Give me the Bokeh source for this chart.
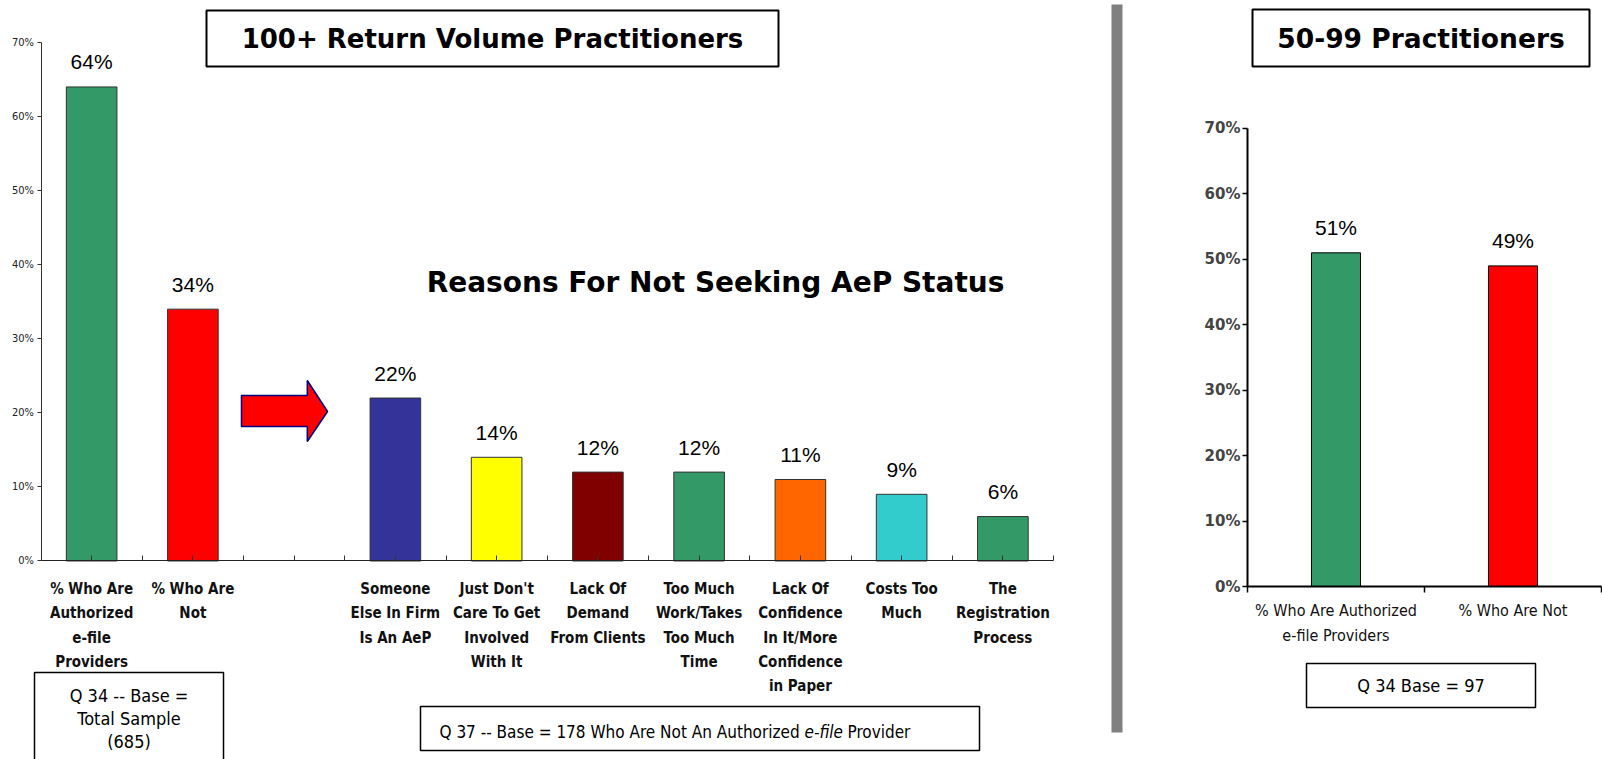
from bokeh.plotting import figure
from bokeh.models import Range1d, FixedTicker, BoxAnnotation, Label, PolyAnnotation
from bokeh.layouts import row
from bokeh.embed import file_html
from bokeh.resources import INLINE
from bokeh.core.properties import value

# ---------------- data ----------------
status_labels = ["% Who Are\nAuthorized\ne-file\nProviders", "% Who Are\nNot"]
status_values = [64, 34]
status_colors = ["#339966", "#FF0000"]

reason_labels = [
    "Someone\nElse In Firm\nIs An AeP",
    "Just Don't\nCare To Get\nInvolved\nWith It",
    "Lack Of\nDemand\nFrom Clients",
    "Too Much\nWork/Takes\nToo Much\nTime",
    "Lack Of\nConfidence\nIn It/More\nConfidence\nin Paper",
    "Costs Too\nMuch",
    "The\nRegistration\nProcess",
]
reason_values = [22, 14, 12, 12, 11, 9, 6]
reason_colors = ["#333399", "#FFFF00", "#800000", "#339966", "#FF6600", "#33CCCC", "#339966"]

mid_labels = ["% Who Are Authorized\ne-file Providers", "% Who Are Not"]
mid_values = [51, 49]
mid_colors = ["#339966", "#FF0000"]

y_ticks = [0, 10, 20, 30, 40, 50, 60, 70]

TAHOMA = "DejaVu Sans Condensed"
TITLEFONT = "DejaVu Sans"
VALFONT = "Liberation Sans"


def canvas_box(p, l, r, t, b, **kw):
    p.add_layout(BoxAnnotation(left=l, right=r, top=t, bottom=b, left_units="canvas",
                               right_units="canvas", top_units="canvas",
                               bottom_units="canvas", **kw))


def canvas_text(p, x, y, text, align="center", size="18px", style="normal", font=TAHOMA):
    p.add_layout(Label(x=x, y=y, x_units="canvas", y_units="canvas", text=text,
                       text_align=align, text_baseline="middle", text_font=font,
                       text_font_style=style, text_font_size=size, text_color="black"))


BOX = dict(fill_color="white", fill_alpha=1, line_color="black", line_alpha=1)

# ---------------- left chart ----------------
status_x = [0, 1]
reason_x = [3 + i for i in range(len(reason_values))]
all_x = status_x + reason_x
all_vals = status_values + reason_values
all_cols = status_colors + reason_colors
all_labels = status_labels + reason_labels

p1 = figure(width=1100, height=759, x_range=Range1d(-0.9, 9.964),
            y_range=Range1d(-26.80, 75.67), output_backend="svg", toolbar_location=None,
            min_border=0)
p1.outline_line_color = None
p1.grid.visible = False
p1.background_fill_color = "white"
p1.border_fill_color = "white"

p1.vbar(x=all_x, top=all_vals, width=0.5, bottom=0, fill_color=all_cols,
        line_color="#333333", line_width=1)
p1.text(x=all_x, y=all_vals, text=[f"{v}%" for v in all_vals], text_align="center",
        text_baseline="middle", y_offset=-25, text_font=value(VALFONT),
        text_font_size="21px", text_color="black")

p1.yaxis.fixed_location = -0.5
p1.yaxis.bounds = (0, 70)
p1.yaxis.ticker = FixedTicker(ticks=y_ticks)
p1.yaxis.major_label_overrides = {t: f"{t}%" for t in y_ticks}
p1.yaxis.major_label_text_font = TAHOMA
p1.yaxis.major_label_text_font_size = "11px"
p1.yaxis.major_label_text_color = "#222222"
p1.yaxis.major_tick_out = 4
p1.yaxis.major_tick_in = 0
p1.yaxis.minor_tick_out = 0
p1.yaxis.minor_tick_in = 0
p1.yaxis.major_label_standoff = 3
p1.yaxis.axis_line_color = "#333333"
p1.yaxis.major_tick_line_color = "#333333"

p1.xaxis.fixed_location = 0
p1.xaxis.bounds = (-0.5, 9.5)
p1.xaxis.ticker = FixedTicker(ticks=list(range(10)), minor_ticks=[i - 0.5 for i in range(11)])
overrides = {i: "" for i in range(10)}
for xv, lab in zip(all_x, all_labels):
    overrides[xv] = lab
p1.xaxis.major_label_overrides = overrides
p1.xaxis.major_label_text_font = TAHOMA
p1.xaxis.major_label_text_font_style = "bold"
p1.xaxis.major_label_text_font_size = "15px"
p1.xaxis.major_label_text_color = "#111111"
p1.xaxis.major_label_text_line_height = 1.35
p1.xaxis.major_label_standoff = 19
p1.xaxis.major_tick_in = 5
p1.xaxis.major_tick_out = 0
p1.xaxis.minor_tick_in = 5
p1.xaxis.minor_tick_out = 0
p1.xaxis.axis_line_color = "#222222"
p1.xaxis.major_tick_line_color = "#333333"
p1.xaxis.minor_tick_line_color = "#333333"

# title box
canvas_box(p1, 206, 778, 10, 66, line_width=2, **BOX)
canvas_text(p1, 492, 38, "100+ Return Volume Practitioners", size="26px", style="bold",
            font=TITLEFONT)

# subtitle
canvas_text(p1, 715, 282, "Reasons For Not Seeking AeP Status", size="28px", style="bold",
            font=TITLEFONT)

# arrow
p1.add_layout(PolyAnnotation(xs=[1.48, 2.13, 2.13, 2.33, 2.13, 2.13, 1.48],
                             ys=[22.34, 22.34, 24.37, 20.18, 16.13, 18.16, 18.16],
                             fill_color="#FF0000", fill_alpha=1, line_color="#000080",
                             line_alpha=1, line_width=1.5))

# Q34 box
canvas_box(p1, 34, 223, 672, 775, line_width=1.5, **BOX)
for t, yy in zip(["Q 34 -- Base =", "Total Sample", "(685)"], [695, 718, 741]):
    canvas_text(p1, 128.5, yy, t)

# Q37 box
canvas_box(p1, 420, 979, 706, 750, line_width=1.5, **BOX)
canvas_text(p1, 439, 731, "Q 37 -- Base = 178 Who Are Not An Authorized", align="left",
            size="17px")
canvas_text(p1, 804, 731, "e-file", align="left", style="italic", size="17px")
canvas_text(p1, 847, 731, "Provider", align="left", size="17px")

# ---------------- right chart ----------------
mid_x = [0, 1]
p2 = figure(width=502, height=759, x_range=Range1d(-1.3305, 1.5057),
            y_range=Range1d(-26.44, 89.563), output_backend="svg", toolbar_location=None,
            min_border=0)
p2.outline_line_color = None
p2.grid.visible = False
p2.background_fill_color = "white"
p2.border_fill_color = "white"

p2.vbar(x=mid_x, top=mid_values, width=0.277, bottom=0, fill_color=mid_colors,
        line_color="black", line_width=1)
p2.text(x=mid_x, y=mid_values, text=[f"{v}%" for v in mid_values], text_align="center",
        text_baseline="middle", y_offset=-25, text_font=value(VALFONT),
        text_font_size="21px", text_color="black")

p2.yaxis.fixed_location = -0.5
p2.yaxis.bounds = (0, 70)
p2.yaxis.ticker = FixedTicker(ticks=y_ticks)
p2.yaxis.major_label_overrides = {t: f"{t}%" for t in y_ticks}
p2.yaxis.major_label_text_font = "DejaVu Sans"
p2.yaxis.major_label_text_font_style = "bold"
p2.yaxis.major_label_text_font_size = "15px"
p2.yaxis.major_tick_out = 5
p2.yaxis.major_tick_in = 0
p2.yaxis.minor_tick_out = 0
p2.yaxis.minor_tick_in = 0
p2.yaxis.major_label_standoff = 2
p2.yaxis.axis_line_color = "black"
p2.yaxis.axis_line_width = 2
p2.yaxis.major_tick_line_width = 1.5

p2.xaxis.fixed_location = 0
p2.xaxis.bounds = (-0.5, 1.5)
p2.xaxis.ticker = FixedTicker(ticks=mid_x, minor_ticks=[-0.5, 0.5, 1.5])
p2.xaxis.major_label_overrides = {x: lab for x, lab in zip(mid_x, mid_labels)}
p2.xaxis.major_label_text_font = TAHOMA
p2.xaxis.major_label_text_font_size = "16px"
p2.xaxis.major_label_text_color = "#111111"
p2.xaxis.major_label_text_line_height = 1.35
p2.xaxis.major_label_standoff = 8
p2.xaxis.major_tick_in = 0
p2.xaxis.major_tick_out = 0
p2.xaxis.minor_tick_in = 0
p2.xaxis.minor_tick_out = 6
p2.xaxis.axis_line_color = "black"
p2.xaxis.axis_line_width = 2
p2.xaxis.minor_tick_line_color = "black"
p2.xaxis.minor_tick_line_width = 1.5

# divider
canvas_box(p2, 11, 22, 4, 732, fill_color="#808080", fill_alpha=1, line_color=None)
# title box
canvas_box(p2, 152, 489, 9, 66, line_width=2, **BOX)
canvas_text(p2, 320.5, 38, "50-99 Practitioners", size="26.5px", style="bold", font=TITLEFONT)
# base box
canvas_box(p2, 206, 435, 663, 707, line_width=1.5, **BOX)
canvas_text(p2, 320.5, 685, "Q 34 Base = 97")

layout = row(p1, p2)
open("out.html", "w").write(file_html(layout, INLINE))
